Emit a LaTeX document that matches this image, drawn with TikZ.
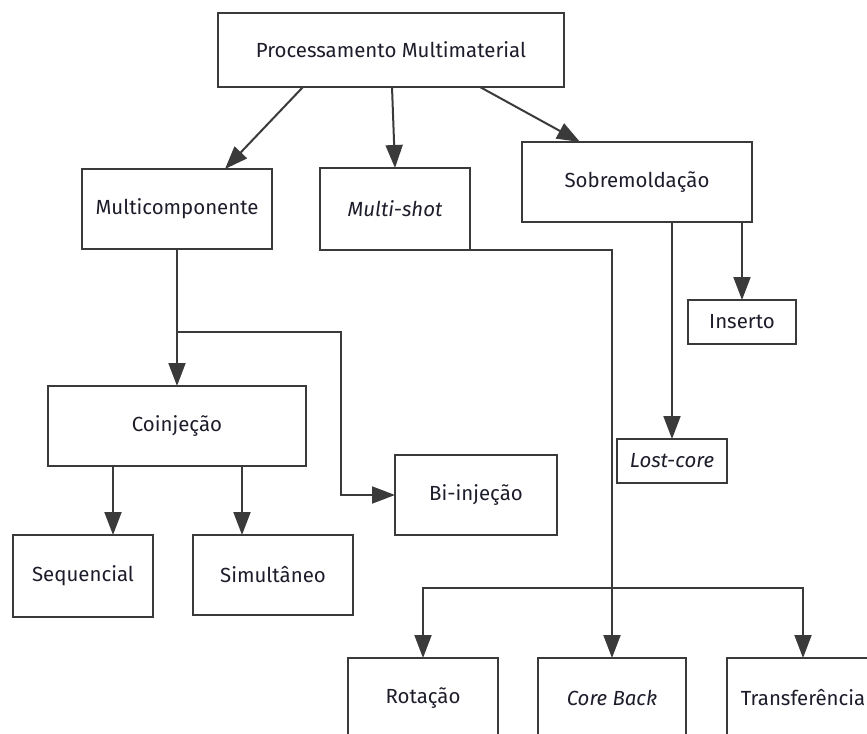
\documentclass[tikz,border=0pt]{standalone}
\usepackage{fontspec}
\setmainfont{Fira Sans}
\usetikzlibrary{arrows.meta}

\definecolor{edge}{HTML}{3A3A3A}
\definecolor{ink}{HTML}{1C1C2A}

\tikzset{
  box/.style={draw=edge, line width=2bp, rectangle, inner sep=0pt, outer sep=0pt,
              text=ink, font=\fontsize{20.5}{24}\selectfont, align=center},
  arr/.style={draw=edge, line width=2bp, -{Triangle[length=23bp,width=17bp]}},
}

\begin{document}
\begin{tikzpicture}[x=1bp, y=-1bp]
  \useasboundingbox (0,0) rectangle (867,734);

  % nodes
  \node[box, minimum width=346bp, minimum height=74bp] (top) at (391,50) {Processamento Multimaterial};
  \node[box, minimum width=190bp, minimum height=80bp] (mc) at (177,209) {Multicomponente};
  \node[box, minimum width=150bp, minimum height=82bp] (ms) at (395,209) {\itshape Multi-shot};
  \node[box, minimum width=230bp, minimum height=80bp] (sob) at (637,182) {Sobremoldação};
  \node[box, minimum width=108bp, minimum height=44bp] (ins) at (742,322) {Inserto};
  \node[box, minimum width=110bp, minimum height=44bp] (lost) at (672,461) {\itshape Lost-core};
  \node[box, minimum width=258bp, minimum height=80bp] (coi) at (177,426) {Coinjeção};
  \node[box, minimum width=162bp, minimum height=80bp] (bi) at (476,495) {Bi-injeção};
  \node[box, minimum width=140bp, minimum height=82bp] (seq) at (83,576) {Sequencial};
  \node[box, minimum width=160bp, minimum height=80bp] (sim) at (273,575) {Simultâneo};
  \node[box, minimum width=150bp, minimum height=80bp] (rot) at (423,698) {Rotação};
  \node[box, minimum width=148bp, minimum height=80bp] (cb) at (612,698) {\itshape Core Back};
  \node[box, minimum width=152bp, minimum height=80bp] (tr) at (803,698) {Transferência};

  % junction points
  \coordinate (jb) at (177,332);
  \coordinate (jb2) at (341,332);
  \coordinate (kb) at (612,588);

  % top level
  \draw[arr] ([xshift=-88bp]top.south) -- ([xshift=48bp]mc.north);
  \draw[arr] ([xshift=1bp]top.south) -- (ms.north);
  \draw[arr] ([xshift=89bp]top.south) -- ([xshift=-57bp]sob.north);

  % multicomponente branch
  \draw[arr] (mc.south) -- (mc.south |- coi.north);
  \draw[arr] (jb) -- (jb2) |- (bi.west);
  \draw[arr] ([xshift=-64bp]coi.south) -- ([xshift=-64bp]coi.south |- seq.north);
  \draw[arr] ([xshift=65bp]coi.south) -- ([xshift=65bp]coi.south |- sim.north);

  % sobremoldacao branch
  \draw[arr] (lost.north |- sob.south) -- (lost.north);
  \draw[arr] (ins.north |- sob.south) -- (ins.north);

  % multi-shot branch
  \draw[arr] (ms.south east) -| (cb.north);
  \draw[arr] (kb) -| (rot.north);
  \draw[arr] (kb) -| (tr.north);
\end{tikzpicture}
\end{document}
